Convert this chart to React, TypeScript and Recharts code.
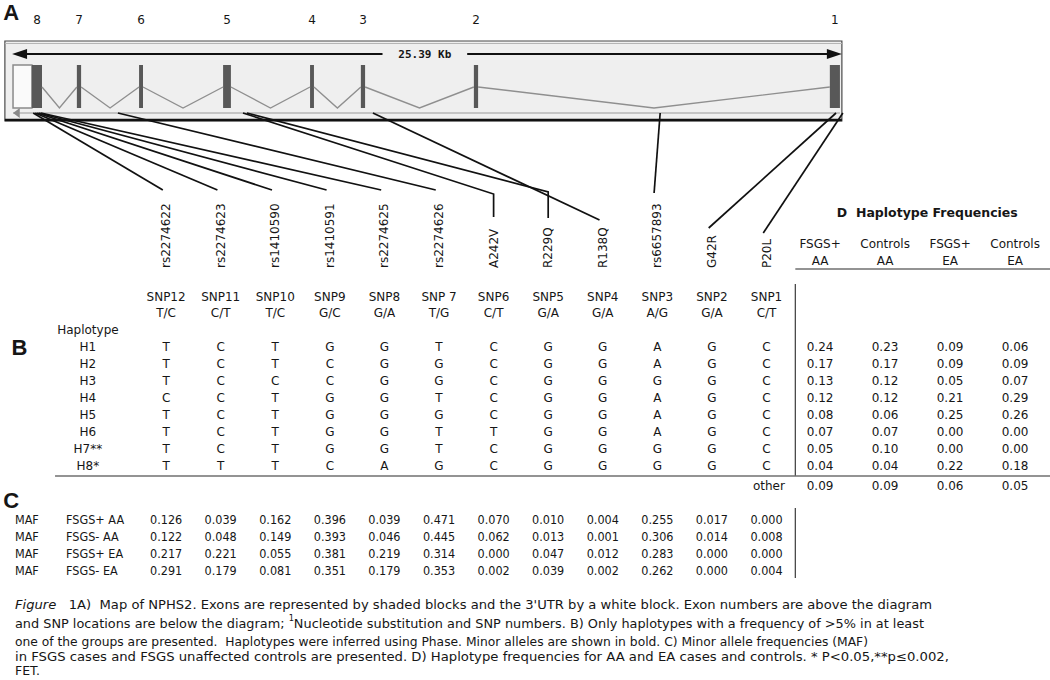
import React from "react";
import { ComposedChart, XAxis, YAxis, Scatter, ReferenceArea, ReferenceLine } from "recharts";

// ---------- gene map (positions along the gene, kb from the 3' end) ----------
const GENE_KB = 25.39;
const utrKb = [0, 0.58];
const exonLabels = ["8", "7", "6", "5", "4", "3", "2", "1"];
const exonStartKb = [0.58, 1.96, 3.87, 6.45, 9.12, 10.68, 14.15, 25.08];
const exonEndKb = [0.89, 2.09, 3.99, 6.69, 9.24, 10.81, 14.28, 25.39];

// ---------- SNPs ----------
const snpIds = ["rs2274622", "rs2274623", "rs1410590", "rs1410591", "rs2274625", "rs2274626", "A242V", "R229Q", "R138Q", "rs6657893", "G42R", "P20L"];
const snpNames = ["SNP12", "SNP11", "SNP10", "SNP9", "SNP8", "SNP 7", "SNP6", "SNP5", "SNP4", "SNP3", "SNP2", "SNP1"];
const snpAlleles = ["T/C", "C/T", "T/C", "G/C", "G/A", "T/G", "C/T", "G/A", "G/A", "A/G", "G/A", "C/T"];
const snpGeneKb = [0.62, 0.68, 0.74, 0.8, 0.86, 3.22, 7.06, 7.18, 11.05, 19.87, 25.27, 25.48];

// ---------- B: haplotypes ----------
const haplotypes = ["H1", "H2", "H3", "H4", "H5", "H6", "H7**", "H8*"];
const haplotypeAlleles = [
  ["T", "C", "T", "G", "G", "T", "C", "G", "G", "A", "G", "C"],
  ["T", "C", "T", "C", "G", "G", "C", "G", "G", "A", "G", "C"],
  ["T", "C", "C", "C", "G", "G", "C", "G", "G", "G", "G", "C"],
  ["C", "C", "T", "G", "G", "T", "C", "G", "G", "A", "G", "C"],
  ["T", "C", "T", "G", "G", "G", "C", "G", "G", "A", "G", "C"],
  ["T", "C", "T", "G", "G", "T", "T", "G", "G", "A", "G", "C"],
  ["T", "C", "T", "G", "G", "T", "C", "G", "G", "G", "G", "C"],
  ["T", "T", "T", "C", "A", "G", "C", "G", "G", "G", "G", "C"],
];

// ---------- D: haplotype frequencies ----------
const freqGroupTop = ["FSGS+", "Controls", "FSGS+", "Controls"];
const freqGroupBottom = ["AA", "AA", "EA", "EA"];
const freqByHaplotype = [
  ["0.24", "0.23", "0.09", "0.06"],
  ["0.17", "0.17", "0.09", "0.09"],
  ["0.13", "0.12", "0.05", "0.07"],
  ["0.12", "0.12", "0.21", "0.29"],
  ["0.08", "0.06", "0.25", "0.26"],
  ["0.07", "0.07", "0.00", "0.00"],
  ["0.05", "0.10", "0.00", "0.00"],
  ["0.04", "0.04", "0.22", "0.18"],
];
const freqOther = ["0.09", "0.09", "0.06", "0.05"];

// ---------- C: minor allele frequencies ----------
const mafGroups = ["FSGS+ AA", "FSGS- AA", "FSGS+ EA", "FSGS- EA"];
const mafValues = [
  ["0.126", "0.039", "0.162", "0.396", "0.039", "0.471", "0.070", "0.010", "0.004", "0.255", "0.017", "0.000"],
  ["0.122", "0.048", "0.149", "0.393", "0.046", "0.445", "0.062", "0.013", "0.001", "0.306", "0.014", "0.008"],
  ["0.217", "0.221", "0.055", "0.381", "0.219", "0.314", "0.000", "0.047", "0.012", "0.283", "0.000", "0.000"],
  ["0.291", "0.179", "0.081", "0.351", "0.179", "0.353", "0.002", "0.039", "0.002", "0.262", "0.000", "0.004"],
];

const captionLines = [
  "Figure   1A)  Map of NPHS2. Exons are represented by shaded blocks and the 3'UTR by a white block. Exon numbers are above the diagram",
  "and SNP locations are below the diagram; \u00b9Nucleotide substitution and SNP numbers. B) Only haplotypes with a frequency of >5% in at least",
  "one of the groups are presented.  Haplotypes were inferred using Phase. Minor alleles are shown in bold. C) Minor allele frequencies (MAF)",
  "in FSGS cases and FSGS unaffected controls are presented. D) Haplotype frequencies for AA and EA cases and controls. * P<0.05,**p\u22640.002,",
  "FET.",
];

// ---------- layout (x in gene-axis units, y in page rows) ----------
const X_DOMAIN: [number, number] = [-0.4, 31.84];
const COL0 = 4.7;
const COL_STEP = 1.676;
const DCOL0 = 24.78;
const DCOL_STEP = 1.996;
const colX = (i: number) => COL0 + i * COL_STEP;
const dColX = (j: number) => DCOL0 + j * DCOL_STEP;

const BOX_X = [-0.25, 25.45];
const EXON_NUM_Y = 20;
const BOX_TOP = 41;
const BOX_BOTTOM = 121;
const ARROW_Y = 54;
const EXON_TOP = 65;
const EXON_BOTTOM = 108;
const INTRON_PEAK = 87;
const GRAY_LINE_Y = 113;
const LABEL_BASE_Y = 268;
const LEADER_ELBOW_Y: (number | null)[] = [null, null, null, null, null, null, 194, 192, null, null, null, null];
const LEADER_END_Y = [190, 190, 190, 190, 190, 190, 217, 218, 220, 193, 228, 233];

const D_TITLE_Y = 212;
const D_HEAD_Y = [244, 261];
const D_RULE_Y = 269;
const SNP_HEAD_Y = [297, 313];
const HAP_HEAD_Y = 330;
const ROW0 = 347;
const ROW_H = 17;
const B_RULE_Y = 476;
const OTHER_Y = 486;
const MAF_ROW0 = 519;
const CAPTION_Y = [604, 623, 641, 656, 670];
const CAPTION_W = [917, 909, 853, 934, 25];

const INK = "#161616";
const FONT = "'DejaVu Sans', Verdana, sans-serif";
const FONT_COND = "'DejaVu Sans Condensed', 'DejaVu Sans', sans-serif";

type TS = { anchor?: "start" | "middle" | "end"; size?: number; weight?: number | string; family?: string; rotate?: boolean };

function txt(st: TS) {
  return (p: any) => {
    const { cx, cy, payload } = p;
    if (cx == null || cy == null || !payload) return <g />;
    return (
      <text
        x={cx}
        y={cy}
        textAnchor={st.anchor ?? "middle"}
        dominantBaseline="central"
        fontFamily={st.family ?? FONT}
        fontSize={st.size ?? 12}
        fontWeight={st.weight ?? "normal"}
        fill={INK}
        style={{ whiteSpace: "pre" }}
        transform={st.rotate ? `rotate(-90 ${cx} ${cy})` : undefined}
      >
        {payload.t}
      </text>
    );
  };
}

const noDot = () => <g />;

const arrowHead = (p: any) => {
  const { cx, cy, payload } = p;
  const d = payload.dir * 15;
  return <polygon points={`${cx},${cy} ${cx - d},${cy - 5} ${cx - d},${cy + 5}`} fill={payload.c} />;
};

const captionShape = (p: any) => {
  const { cx, cy, payload } = p;
  const s: string = payload.t;
  let body: React.ReactNode = s;
  if (s.startsWith("Figure")) {
    body = (
      <>
        <tspan fontStyle="italic">Figure</tspan>
        <tspan>{s.slice(6)}</tspan>
      </>
    );
  } else if (s.includes("\u00b9")) {
    const [a, b] = s.split("\u00b9");
    body = (
      <>
        <tspan>{a}</tspan>
        <tspan fontSize={8} dy={-5}>1</tspan>
        <tspan dy={5}>{b}</tspan>
      </>
    );
  }
  return (
    <text
      x={cx}
      y={cy}
      dominantBaseline="central"
      fontFamily={FONT_COND}
      fontSize={12.5}
      fill={INK}
      textLength={CAPTION_W[payload.i]}
      lengthAdjust="spacingAndGlyphs"
      style={{ whiteSpace: "pre" }}
    >
      {body}
    </text>
  );
};

function textLayer(key: string, data: any[], st: TS) {
  return <Scatter key={key} data={data} shape={txt(st)} isAnimationActive={false} />;
}

export default function App() {
  const introns = exonStartKb.slice(1).map((s, i) => [
    { x: exonEndKb[i], y: INTRON_PEAK },
    { x: (exonEndKb[i] + s) / 2, y: EXON_BOTTOM },
    { x: s, y: INTRON_PEAK },
  ]);
  const exonNums = exonLabels.map((t, i) => ({ x: (exonStartKb[i] + exonEndKb[i]) / 2, y: EXON_NUM_Y, t }));
  const leaders = snpIds.map((_, i) => {
    const pts = [{ x: snpGeneKb[i], y: GRAY_LINE_Y }];
    const e = LEADER_ELBOW_Y[i];
    if (e != null) pts.push({ x: colX(i), y: e });
    pts.push({ x: e != null ? colX(i) : colX(i) - 0.1, y: LEADER_END_Y[i] });
    return pts;
  });
  const idLabels = snpIds.map((t, i) => ({ x: colX(i), y: LABEL_BASE_Y, t }));
  const nameRow = snpNames.map((t, i) => ({ x: colX(i), y: SNP_HEAD_Y[0], t }));
  const alleleRow = snpAlleles.map((t, i) => ({ x: colX(i), y: SNP_HEAD_Y[1], t }));
  const hapLabels = [{ x: 2.3, y: HAP_HEAD_Y, t: "Haplotype" }, ...haplotypes.map((t, r) => ({ x: 2.3, y: ROW0 + r * ROW_H, t }))];
  const hapCells = haplotypeAlleles.flatMap((row, r) => row.map((t, i) => ({ x: colX(i), y: ROW0 + r * ROW_H, t })));
  const freqHead = [
    ...freqGroupTop.map((t, j) => ({ x: dColX(j), y: D_HEAD_Y[0], t })),
    ...freqGroupBottom.map((t, j) => ({ x: dColX(j), y: D_HEAD_Y[1], t })),
  ];
  const freqCells = [
    ...freqByHaplotype.flatMap((row, r) => row.map((t, j) => ({ x: dColX(j), y: ROW0 + r * ROW_H, t }))),
    ...freqOther.map((t, j) => ({ x: dColX(j), y: OTHER_Y, t })),
  ];
  const mafLeft = mafGroups.flatMap((g, r) => [
    { x: 0.06, y: MAF_ROW0 + r * ROW_H, t: "MAF" },
    { x: 1.63, y: MAF_ROW0 + r * ROW_H, t: g },
  ]);
  const mafCells = mafValues.flatMap((row, r) => row.map((t, i) => ({ x: colX(i), y: MAF_ROW0 + r * ROW_H, t })));
  const captions = captionLines.map((t, i) => ({ x: 0.06, y: CAPTION_Y[i], t, i }));
  const midKb = GENE_KB / 2 - 0.05;

  return (
    <div style={{ position: "absolute", left: 0, top: 0, width: 1050, height: 680, background: "#fff" }}>
      <ComposedChart width={1050} height={680} margin={{ top: 0, right: 0, bottom: 0, left: 0 }}>
        <XAxis type="number" dataKey="x" domain={X_DOMAIN} hide allowDataOverflow />
        <YAxis type="number" dataKey="y" domain={[0, 680]} reversed hide allowDataOverflow />

        {/* A: gene map */}
        <ReferenceArea x1={BOX_X[0]} x2={BOX_X[1]} y1={BOX_TOP} y2={BOX_BOTTOM} fill="#efefef" fillOpacity={1} stroke="#4a4a4a" strokeWidth={1.2} />
        <ReferenceLine segment={[{ x: BOX_X[0], y: BOX_TOP + 2.5 }, { x: BOX_X[1], y: BOX_TOP + 2.5 }]} stroke="#b5b5b5" strokeWidth={1} />
        <ReferenceLine segment={[{ x: BOX_X[0], y: BOX_BOTTOM - 1 }, { x: BOX_X[1], y: BOX_BOTTOM - 1 }]} stroke="#111" strokeWidth={2.5} />
        <ReferenceLine segment={[{ x: 0, y: GRAY_LINE_Y }, { x: GENE_KB, y: GRAY_LINE_Y }]} stroke="#9a9a9a" strokeWidth={1.2} />
        <ReferenceLine segment={[{ x: 0.3, y: ARROW_Y }, { x: midKb - 1.3, y: ARROW_Y }]} stroke="#111" strokeWidth={2} />
        <ReferenceLine segment={[{ x: midKb + 1.3, y: ARROW_Y }, { x: BOX_X[1] - 0.3, y: ARROW_Y }]} stroke="#111" strokeWidth={2} />
        <Scatter
          data={[
            { x: -0.03, y: ARROW_Y, dir: -1, c: "#111" },
            { x: BOX_X[1], y: ARROW_Y, dir: 1, c: "#111" },
          ]}
          shape={arrowHead}
          isAnimationActive={false}
        />
        <Scatter data={[{ x: 0, y: GRAY_LINE_Y, dir: -0.45, c: "#888" }]} shape={arrowHead} isAnimationActive={false} />
        {textLayer("kb", [{ x: midKb, y: ARROW_Y, t: `${GENE_KB} Kb` }], { size: 11, weight: 700, family: "'DejaVu Sans Mono', monospace" })}

        {introns.map((pts, i) => (
          <Scatter key={"in" + i} data={pts} line={{ stroke: "#8f8f8f", strokeWidth: 1.4 }} lineType="joint" shape={noDot} isAnimationActive={false} />
        ))}
        <ReferenceArea x1={utrKb[0]} x2={utrKb[1]} y1={EXON_TOP} y2={EXON_BOTTOM} fill="#fafafa" fillOpacity={1} stroke="#8a8a8a" strokeWidth={1.5} />
        {exonStartKb.map((s, i) => (
          <ReferenceArea key={"ex" + i} x1={s} x2={exonEndKb[i]} y1={EXON_TOP} y2={EXON_BOTTOM} fill="#585858" fillOpacity={1} stroke="none" />
        ))}
        {textLayer("exn", exonNums, { size: 12 })}
        {textLayer("A", [{ x: -0.3, y: 12, t: "A" }], { anchor: "start", size: 22, weight: 700, family: "'Liberation Sans', Arial, sans-serif" })}

        {/* SNP leaders and labels */}
        {leaders.map((pts, i) => (
          <Scatter key={"ld" + i} data={pts} line={{ stroke: "#111", strokeWidth: 1.7 }} lineType="joint" shape={noDot} isAnimationActive={false} />
        ))}
        {textLayer("ids", idLabels, { anchor: "start", rotate: true })}

        {/* D header */}
        {textLayer("dt", [{ x: dColX(1.65), y: D_TITLE_Y, t: "D  Haplotype Frequencies" }], { size: 12.5, weight: 700 })}
        {textLayer("dh", freqHead, {})}
        <ReferenceLine segment={[{ x: 24.02, y: D_RULE_Y }, { x: X_DOMAIN[1], y: D_RULE_Y }]} stroke="#6f6f6f" strokeWidth={1.3} />

        {/* B table */}
        {textLayer("B", [{ x: -0.05, y: ROW0, t: "B" }], { anchor: "start", size: 22, weight: 700, family: "'Liberation Sans', Arial, sans-serif" })}
        {textLayer("sn", nameRow, {})}
        {textLayer("sa", alleleRow, {})}
        {textLayer("hl", hapLabels, {})}
        {textLayer("hc", hapCells, {})}
        {textLayer("fc", freqCells, {})}
        {textLayer("ot", [{ x: 23.7, y: OTHER_Y, t: "other" }], { anchor: "end" })}
        <ReferenceLine segment={[{ x: 24.02, y: 284 }, { x: 24.02, y: B_RULE_Y }]} stroke="#3a3a3a" strokeWidth={1.2} />
        <ReferenceLine segment={[{ x: 1.29, y: B_RULE_Y }, { x: X_DOMAIN[1], y: B_RULE_Y }]} stroke="#6f6f6f" strokeWidth={1.3} />

        {/* C table */}
        {textLayer("C", [{ x: -0.3, y: 500, t: "C" }], { anchor: "start", size: 22, weight: 700, family: "'Liberation Sans', Arial, sans-serif" })}
        {textLayer("ml", mafLeft, { anchor: "start", family: FONT_COND, size: 12.5 })}
        {textLayer("mc", mafCells, { family: FONT_COND, size: 12.5 })}
        <ReferenceLine segment={[{ x: 24.02, y: 508 }, { x: 24.02, y: 578 }]} stroke="#3a3a3a" strokeWidth={1.2} />

        {/* caption */}
        <Scatter data={captions} shape={captionShape} isAnimationActive={false} />
      </ComposedChart>
    </div>
  );
}
